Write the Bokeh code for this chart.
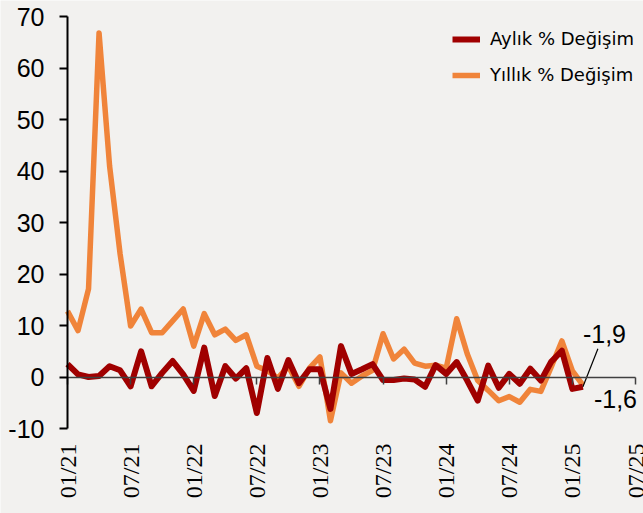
import math
from bokeh.plotting import figure
from bokeh.models import Range1d, FixedTicker, Legend, LegendItem, Label, LabelSet, ColumnDataSource
from bokeh.embed import file_html
from bokeh.resources import INLINE

tick_labels = ["01/21", "07/21", "01/22", "07/22", "01/23", "07/23",
               "01/24", "07/24", "01/25", "07/25"]

aylik = [2.5, 0.5, 0.0, 0.2, 2.1, 1.3, -1.8, 5.0, -1.8, 0.8,
         3.1, 0.5, -2.7, 5.7, -3.7, 2.1, -0.3, 1.7, -7.0, 3.7,
         -2.3, 3.3, -1.2, 1.5, 1.5, -6.2, 6.0, 0.6, 1.5, 2.5,
         -0.6, -0.6, -0.3, -0.5, -1.9, 2.3, 0.6, 2.9, -0.7, -4.6,
         2.2, -2.1, 0.6, -1.3, 1.6, -0.7, 3.0, 5.1, -2.3, -1.9]

yillik = [12.8, 9.0, 17.1, 66.8, 41.0, 23.9, 9.9, 13.2, 8.6, 8.6,
          10.9, 13.2, 6.0, 12.3, 8.2, 9.3, 7.1, 8.2, 2.1, 1.2,
          -0.2, 2.1, -1.8, 1.7, 3.9, -8.5, 0.8, -1.2, 0.2, 1.3,
          8.4, 3.5, 5.4, 2.7, 2.1, 2.3, 1.7, 11.3, 4.5, -0.7,
          -2.6, -4.6, -3.8, -4.9, -2.4, -2.8, 2.0, 7.0, 1.2, -1.6]

month_idx = list(range(len(aylik)))
tick_pos = [6 * i for i in range(len(tick_labels))]
y_ticks = list(range(-10, 71, 10))

BG = "#F2F1EF"
RED = "#A00000"
ORANGE = "#F0843A"
FONT = "Liberation Sans"

# layout (pixels): the frame fills the canvas, axes sit at fixed data locations
W, H = 643, 513
LEFT, TOP = 67, 16
AXIS_W, AXIS_H = 568, 412          # drawn length of the x / y axes
px_x = AXIS_W / (tick_pos[-1] - tick_pos[0])
px_y = AXIS_H / (y_ticks[-1] - y_ticks[0])
x_start = tick_pos[0] - LEFT / px_x
x_end = tick_pos[-1] + (W - LEFT - AXIS_W) / px_x
y_start = y_ticks[-1] - (H - TOP) / px_y
y_end = y_ticks[-1] + TOP / px_y

src = ColumnDataSource(dict(x=month_idx, a=aylik, y=yillik))
tick_src = ColumnDataSource(dict(x=tick_pos, y=[y_ticks[0]] * len(tick_pos), t=tick_labels))

p = figure(width=W, height=H, output_backend="svg", toolbar_location=None,
           x_range=Range1d(x_start, x_end), y_range=Range1d(y_start, y_end),
           min_border_left=0, min_border_right=0, min_border_top=0, min_border_bottom=0)
p.background_fill_color = BG
p.border_fill_color = BG
p.outline_line_color = None
p.xgrid.visible = False
p.ygrid.visible = False

# x axis drawn as the zero line with tick marks
xa = p.xaxis[0]
xa.fixed_location = 0
xa.bounds = (tick_pos[0], tick_pos[-1])
xa.ticker = FixedTicker(ticks=tick_pos)
xa.axis_line_color = "#404040"
xa.axis_line_width = 1.5
xa.major_tick_line_color = "#404040"
xa.major_tick_line_width = 1.5
xa.major_tick_out = 7
xa.major_tick_in = 0
xa.minor_tick_line_color = None
xa.major_label_text_font_size = "0px"
xa.major_label_text_alpha = 0

# x tick labels under the plot, vertical
p.add_layout(LabelSet(x="x", y="y", text="t", source=tick_src, angle=math.pi / 2,
                      y_offset=-15, text_align="right", text_baseline="middle",
                      text_font=FONT, text_font_size="24px", text_color="#000000"))

ya = p.yaxis[0]
ya.fixed_location = tick_pos[0]
ya.bounds = (y_ticks[0], y_ticks[-1])
ya.ticker = FixedTicker(ticks=y_ticks)
ya.major_label_overrides = {t: str(t) for t in y_ticks}
ya.axis_line_color = "#000000"
ya.axis_line_width = 2
ya.major_tick_line_color = "#000000"
ya.major_tick_line_width = 2
ya.major_tick_out = 8
ya.major_tick_in = 0
ya.minor_tick_line_color = None
ya.major_label_standoff = 15
ya.major_label_text_font = FONT
ya.major_label_text_font_size = "25px"
ya.major_label_text_color = "#000000"

r_y = p.line("x", "y", source=src, line_color=ORANGE, line_width=5.5, line_join="round")
r_a = p.line("x", "a", source=src, line_color=RED, line_width=6, line_join="round")

legend = Legend(items=[LegendItem(label="Aylık % Değişim", renderers=[r_a]),
                       LegendItem(label="Yıllık % Değişim", renderers=[r_y])],
                location=(LEFT + 385, 428), orientation="vertical",
                background_fill_alpha=0, border_line_color=None,
                padding=0, margin=0, spacing=15,
                glyph_width=28, glyph_height=20, label_height=20,
                label_standoff=10,
                label_text_font="DejaVu Sans", label_text_font_size="18px",
                label_text_color="#000000")
p.add_layout(legend, "center")

last_x = month_idx[-1]
p.segment(x0=[last_x], y0=[aylik[-1]], x1=[last_x + 15 / px_x], y1=[aylik[-1] + 38 / px_y],
          line_color="#000000", line_width=1.2)

p.add_layout(Label(x=last_x, y=aylik[-1], text="-1,9", x_offset=0, y_offset=53,
                   text_baseline="middle", text_align="left",
                   text_font=FONT, text_font_size="25px", text_color="#000000"))
p.add_layout(Label(x=last_x, y=yillik[-1], text="-1,6", x_offset=11, y_offset=-14,
                   text_baseline="middle", text_align="left",
                   text_font=FONT, text_font_size="25px", text_color="#000000"))

open("out.html", "w").write(file_html(p, INLINE))
